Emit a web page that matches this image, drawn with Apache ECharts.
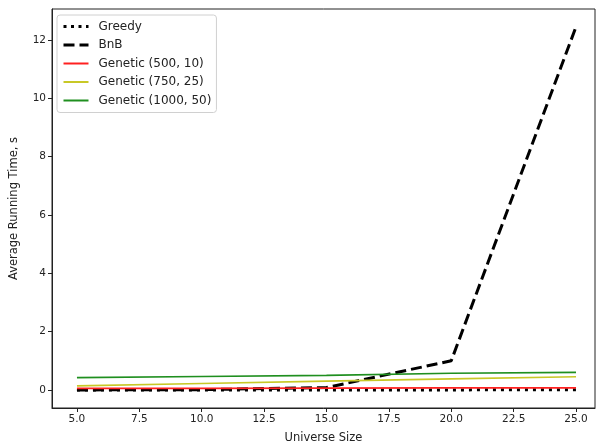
<!DOCTYPE html>
<html lang="en">
<head>
    <meta charset="UTF-8">
    <script type="text/javascript" src="https://cdn.jsdelivr.net/npm/echarts@6/dist/echarts.min.js"></script>
    <title>Running time</title>
    <style type="text/css">
        body { margin: 0; background: #fff; }
        #chart { width: 596px; height: 443px; }
    </style>
</head>
<body>
<div id="chart"></div>
<script type="text/javascript">
    // universe sizes
    let sizes = [5, 10, 15, 20, 25];
    let greedy = [0.0, 0.0, 0.0, 0.0, 0.01];
    let bnb = [0.0, 0.01, 0.08, 1.0, 12.45];
    let gen500 = [0.05, 0.05, 0.06, 0.07, 0.07];
    let gen750 = [0.14, 0.22, 0.3, 0.38, 0.45];
    let gen1000 = [0.42, 0.46, 0.5, 0.57, 0.6];
    let xTicks = [5, 7.5, 10, 12.5, 15, 17.5, 20, 22.5, 25];
    let yTicks = [0, 2, 4, 6, 8, 10, 12];

    let chart = echarts.init(document.getElementById('chart'));
    let font = 'DejaVu Sans';

    function pairs(vals) {
        return sizes.map((s, i) => [s, vals[i]]);
    }

    function line(name, vals, color, width, type) {
        return {
            name: name,
            type: 'line',
            symbol: 'none',
            data: pairs(vals),
            lineStyle: { color: color, width: width, type: type, cap: 'butt' },
            itemStyle: { color: color },
            emphasis: { disabled: true },
            animation: false
        };
    }

    let option = {
        animation: false,
        grid: {
            left: 52, right: 1, top: 9, bottom: 35,
            outerBoundsMode: 'none',
            containLabel: false,
            show: true, borderColor: '#222', borderWidth: 1
        },
        legend: {
            orient: 'vertical',
            left: 57, top: 15,
            itemWidth: 25, itemHeight: 14, itemGap: 6.5,
            itemStyle: { opacity: 0 },
            backgroundColor: 'rgba(255,255,255,0.8)',
            borderColor: '#d0d0d0', borderWidth: 1, borderRadius: 3,
            padding: [5.5, 5, 6, 5],
            textStyle: { fontFamily: font, fontSize: 12, color: '#222', padding: [0, 0, 0, 5] },
            data: [
                { name: 'Greedy', lineStyle: { type: [3, 4.5], width: 3 } },
                { name: 'BnB', lineStyle: { type: [11, 5], width: 3 } },
                'Genetic (500, 10)', 'Genetic (750, 25)', 'Genetic (1000, 50)'
            ]
        },
        xAxis: {
            type: 'value',
            min: 4, max: 25.76,
            name: 'Universe Size',
            nameLocation: 'middle',
            nameGap: 24,
            nameTextStyle: { fontFamily: font, fontSize: 11.5, color: '#222' },
            splitLine: { show: false },
            axisLine: { onZero: false, lineStyle: { color: '#222' } },
            axisTick: { show: true, length: 4, customValues: xTicks, lineStyle: { color: '#222' } },
            axisLabel: {
                customValues: xTicks,
                formatter: v => v.toFixed(1),
                fontFamily: font, fontSize: 10.5, color: '#222', margin: 6
            }
        },
        yAxis: {
            type: 'value',
            min: -0.62, max: 13.06,
            name: 'Average Running Time, s',
            nameLocation: 'middle',
            nameGap: 32,
            nameTextStyle: { fontFamily: font, fontSize: 11.5, color: '#222' },
            splitLine: { show: false },
            axisLine: { show: true, lineStyle: { color: '#222' } },
            axisTick: { show: true, length: 4, customValues: yTicks, lineStyle: { color: '#222' } },
            axisLabel: {
                customValues: yTicks,
                fontFamily: font, fontSize: 10.5, color: '#222', margin: 6
            }
        },
        series: [
            line('Greedy', greedy, '#000', 3, [3, 5]),
            line('BnB', bnb, '#000', 3, [11, 5]),
            line('Genetic (500, 10)', gen500, '#ff2020', 1.8, 'solid'),
            line('Genetic (750, 25)', gen750, '#c8c826', 1.6, 'solid'),
            line('Genetic (1000, 50)', gen1000, '#1f8f1f', 1.6, 'solid')
        ]
    };
    chart.setOption(option);
</script>
</body>
</html>
